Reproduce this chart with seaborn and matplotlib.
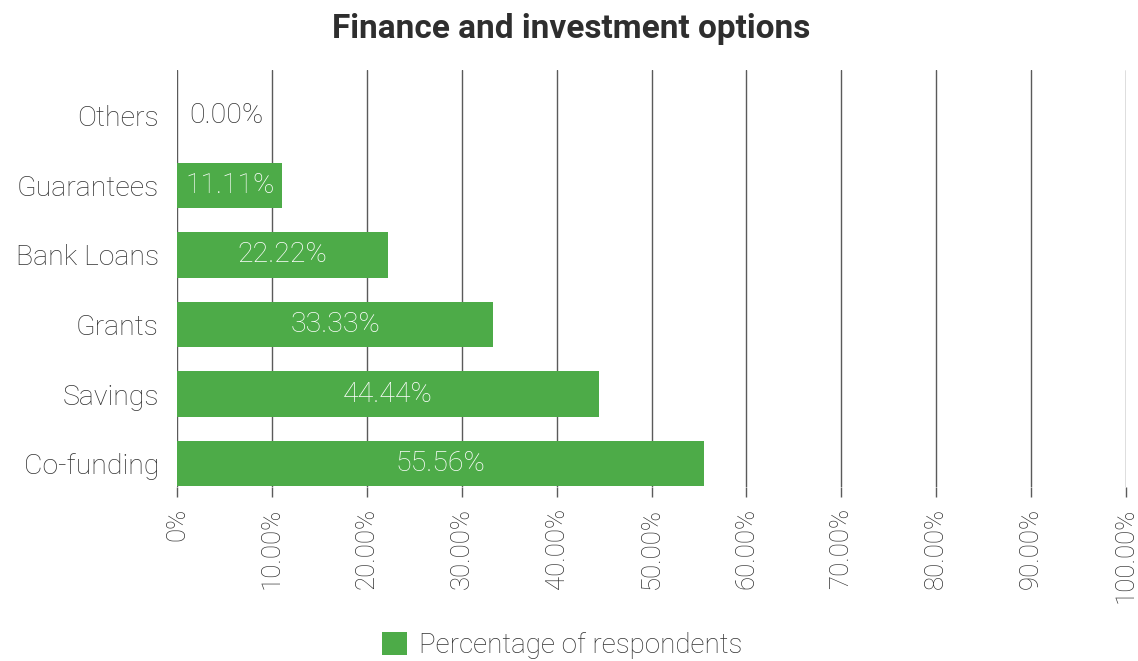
import matplotlib
matplotlib.use("Agg")
import matplotlib.pyplot as plt
from matplotlib.ticker import FixedLocator, FuncFormatter
import seaborn as sns
import pandas as pd

# Survey results: share of respondents per finance / investment option
options = ["Others", "Guarantees", "Bank Loans", "Grants", "Savings", "Co-funding"]
percentages = [0.00, 11.11, 22.22, 33.33, 44.44, 55.56]
x_ticks = [0, 10, 20, 30, 40, 50, 60, 70, 80, 90, 100]
series_name = "Percentage of respondents"
title = "Finance and investment options"

GREEN = "#4dab48"
TEXT = "#333333"
GRID = "#5a5a5a"

sns.set_theme(style="white")
plt.rcParams["font.family"] = ["Roboto", "DejaVu Sans"]

df = pd.DataFrame({"option": options, "pct": percentages})

fig = plt.figure(figsize=(11.38, 6.61), dpi=100)
ax = fig.add_axes([0.1555, 0.263, 0.834, 0.631])

sns.barplot(data=df, x="pct", y="option", order=options, color=GREEN,
            width=0.66, saturation=1, label=series_name, ax=ax, zorder=3,
            linewidth=0, edgecolor="none")
if ax.get_legend() is not None:
    ax.get_legend().remove()

ax.set_xlim(0, 100)
ax.set_ylim(len(options) - 1 + 0.34, -0.66)

# vertical gridlines at every 10 %
ax.xaxis.set_major_locator(FixedLocator(x_ticks))
ax.xaxis.set_major_formatter(FuncFormatter(lambda v, _: "0%" if v == 0 else f"{v:.2f}%"))
ax.grid(axis="x", color=GRID, linewidth=1.0, zorder=0)
ax.grid(axis="y", visible=False)
for s in ax.spines.values():
    s.set_visible(False)

ax.tick_params(axis="x", which="major", length=7, width=1.0, color=GRID,
               direction="out", pad=8, labelsize=18.5, labelcolor=TEXT,
               labelrotation=90, bottom=True)
for lbl in ax.get_xticklabels():
    lbl.set_va("top")
    lbl.set_fontweight("light")
ax.tick_params(axis="y", length=0, pad=13, labelsize=20.5, labelcolor=TEXT)
for lbl in ax.get_yticklabels():
    lbl.set_fontweight("light")
ax.set_xlabel("")
ax.set_ylabel("")

# value labels: centred in each bar, or just right of an empty bar
for i, (cat, v) in enumerate(zip(options, percentages)):
    if v > 0:
        ax.text(v / 2, i, f"{v:.2f}%", ha="center", va="center", fontweight="light",
                fontsize=20.5, color="white", zorder=4)
    else:
        ax.text(1.3, i, f"{v:.2f}%", ha="left", va="center", fontweight="light",
                fontsize=20.5, color=TEXT, zorder=4)

fig.suptitle(title, x=0.502, y=0.98, fontsize=24, fontweight="bold", color="#2e2e2e")

handles, labels = ax.get_legend_handles_labels()
leg = fig.legend(handles[:1], labels[:1], loc="lower center", bbox_to_anchor=(0.494, -0.035),
                 frameon=False, fontsize=20, handlelength=0.9, handleheight=0.9,
                 handletextpad=0.4)
for t in leg.get_texts():
    t.set_color(TEXT)
    t.set_fontweight("light")

fig.savefig("out.png", dpi=100)
